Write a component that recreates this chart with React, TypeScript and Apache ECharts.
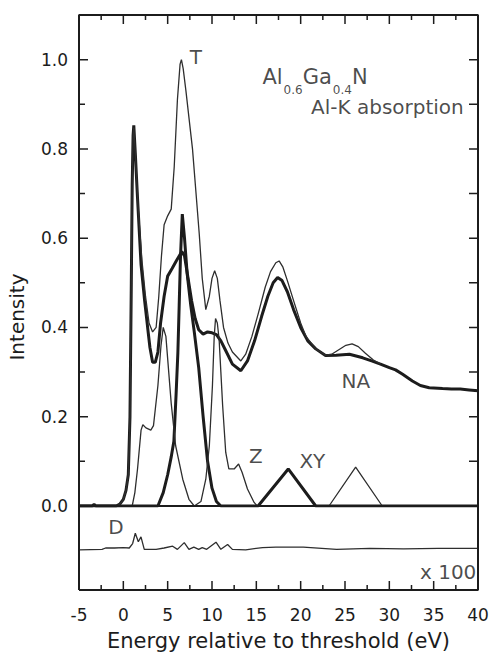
import React, { useEffect, useRef } from "react";
import * as echarts from "echarts";

const FONT = "DejaVu Sans, Liberation Sans, Arial, sans-serif";
const INK = "#1c1c1c";
const THIN = "#2e2e2e";

const X_MIN = -5;
const X_MAX = 40;
const X_STEP = 5;
const Y_UP_MAX = 1.1;
const Y_LOW_MIN = -0.188;

// grid layout (pixels)
const GRID_LEFT = 79;
const GRID_W = 399;
const UP_TOP = 15;
const UP_H = 491;
const LOW_H = 84;

// tick values
const X_MAJOR = [-5, 0, 5, 10, 15, 20, 25, 30, 35, 40];
const X_MINOR = [-2.5, 2.5, 7.5, 12.5, 17.5, 22.5, 27.5, 32.5, 37.5];
const Y_MAJOR = [0, 0.2, 0.4, 0.6, 0.8, 1.0];
const Y_MINOR = [0.1, 0.3, 0.5, 0.7, 0.9];

const naCurve: [number, number][] = [
  [-5, 0], [-3.5, 0], [-3.3, 0.004], [-3.1, 0], [-0.8, 0], [-0.4, 0.004], [0, 0.015], [0.3, 0.035],
  [0.56, 0.07], [0.75, 0.2], [0.9, 0.5], [1.0, 0.72], [1.1, 0.83], [1.18, 0.853], [1.35, 0.79],
  [1.6, 0.69], [2.0, 0.54], [2.4, 0.46], [2.74, 0.4], [3.0, 0.355], [3.3, 0.322], [3.6, 0.322],
  [3.9, 0.345], [4.2, 0.41], [4.6, 0.47], [5.0, 0.515], [5.5, 0.532], [6.0, 0.55], [6.3, 0.56],
  [6.6, 0.57], [6.9, 0.56], [7.3, 0.51], [7.7, 0.46], [8.1, 0.42], [8.5, 0.395], [9.0, 0.385],
  [9.5, 0.39], [10.0, 0.388], [10.5, 0.384], [11.0, 0.37], [11.5, 0.35], [12.3, 0.318],
  [13.25, 0.303], [14.0, 0.325], [14.8, 0.37], [15.6, 0.425], [16.3, 0.47], [16.9, 0.5],
  [17.4, 0.512], [17.9, 0.505], [18.5, 0.48], [19.2, 0.44], [20.0, 0.4], [20.8, 0.37],
  [21.7, 0.352], [22.8, 0.337], [24.0, 0.338], [25.5, 0.34], [27.0, 0.332], [28.0, 0.325],
  [29.0, 0.318], [30.0, 0.31], [30.7, 0.305], [31.5, 0.295], [32.6, 0.28], [33.5, 0.27],
  [34.5, 0.265], [36.0, 0.263], [37.0, 0.262], [38.0, 0.262], [39.0, 0.26], [40.0, 0.258],
];

const tCurve: [number, number][] = [
  [-5, 0], [-0.8, 0], [-0.4, 0.004], [0, 0.015], [0.3, 0.035], [0.56, 0.07], [0.75, 0.2],
  [0.9, 0.5], [1.0, 0.72], [1.1, 0.83], [1.18, 0.848], [1.35, 0.79], [1.7, 0.66], [2.1, 0.55],
  [2.5, 0.47], [2.9, 0.41], [3.3, 0.39], [3.7, 0.4], [4.0, 0.47], [4.3, 0.56], [4.6, 0.63],
  [5.0, 0.65], [5.4, 0.665], [5.74, 0.76], [6.1, 0.91], [6.4, 0.99], [6.55, 1.0], [6.75, 0.98],
  [7.06, 0.93], [7.4, 0.87], [7.8, 0.8], [8.2, 0.7], [8.56, 0.61], [8.9, 0.51], [9.3, 0.44],
  [9.7, 0.47], [10.0, 0.51], [10.3, 0.527], [10.6, 0.51], [10.9, 0.46], [11.3, 0.4],
  [11.8, 0.365], [12.3, 0.345], [13.25, 0.325], [13.8, 0.34], [14.5, 0.38], [15.2, 0.43],
  [16.0, 0.49], [16.6, 0.525], [17.2, 0.545], [17.57, 0.549], [18.0, 0.535], [18.5, 0.505],
  [19.2, 0.46], [20.0, 0.41], [20.6, 0.38], [21.7, 0.352], [22.8, 0.338], [23.5, 0.34],
  [24.3, 0.35], [25.1, 0.36], [25.8, 0.363], [26.5, 0.357], [27.3, 0.342], [28.2, 0.327],
  [29.0, 0.318],
];

const zCurve: [number, number][] = [
  [-5, 0], [1.0, 0], [1.3, 0.03], [1.6, 0.083], [2.0, 0.17], [2.2, 0.182], [2.55, 0.175],
  [3.1, 0.17], [3.4, 0.18], [3.9, 0.27], [4.25, 0.36], [4.5, 0.4], [4.8, 0.38], [5.4, 0.23],
  [5.9, 0.135], [6.7, 0.06], [7.4, 0.015], [8.0, 0], [8.75, 0.01], [9.3, 0.06], [9.7, 0.135],
  [10.05, 0.27], [10.25, 0.38], [10.4, 0.42], [10.6, 0.41], [10.8, 0.374], [11.0, 0.3],
  [11.2, 0.225], [11.55, 0.12], [11.9, 0.083], [12.5, 0.083], [13.0, 0.094], [13.4, 0.075],
  [14.0, 0.038], [14.75, 0.008], [15.1, 0], [23.2, 0], [26.2, 0.087], [29.2, 0], [40, 0],
];

const xyCurve: [number, number][] = [
  [-5, 0], [3.9, 0], [4.5, 0.03], [5.0, 0.07], [5.4, 0.11], [5.7, 0.145], [5.95, 0.25],
  [6.15, 0.343], [6.3, 0.45], [6.45, 0.56], [6.65, 0.654], [6.9, 0.6], [7.2, 0.52], [7.6, 0.45],
  [8.0, 0.39], [8.5, 0.31], [9.0, 0.2], [9.5, 0.1], [10.0, 0.04], [10.5, 0.01], [11.0, 0],
  [15.2, 0], [18.6, 0.083], [21.7, 0], [40, 0],
];

const dCurve: [number, number][] = [
  [-5, -0.098], [-2.4, -0.097], [-2.0, -0.094], [-1.0, -0.094], [0.0, -0.093], [0.67, -0.094],
  [1.05, -0.084], [1.35, -0.061], [1.69, -0.08], [1.99, -0.069], [2.36, -0.097], [3.7, -0.097],
  [4.6, -0.094], [5.56, -0.09], [6.1, -0.097], [6.87, -0.082], [7.4, -0.097], [7.95, -0.092],
  [8.5, -0.097], [8.9, -0.093], [9.4, -0.097], [10.45, -0.081], [11.0, -0.097], [11.76, -0.086],
  [12.3, -0.097], [13.8, -0.098], [15.7, -0.093], [17.2, -0.092], [20.3, -0.092], [24.05, -0.097],
  [27.8, -0.095], [31.6, -0.096], [35.5, -0.095], [40, -0.095],
];

const upperLabels = [
  { name: "T", value: [8.19, 1.006] },
  { name: "NA", value: [26.23, 0.281] },
  { name: "Z", value: [14.95, 0.113] },
  { name: "XY", value: [21.32, 0.0998] },
  { name: "Al-K absorption", value: [29.78, 0.893] },
];
const formulaLabel = { name: "formula", value: [15.74, 0.9834] };
const dLabel = { name: "D", value: [-0.83, -0.048] };
const scaleLabel = { name: "x 100", value: [39.87, -0.149] };

export default function App() {
  const ref = useRef<HTMLDivElement>(null);

  useEffect(() => {
    if (!ref.current) return;
    const chart = echarts.init(ref.current, null, { renderer: "svg" });

    // pixel lengths converted into data units of each axis
    const pxX = GRID_W / (X_MAX - X_MIN);
    const pxYUp = UP_H / Y_UP_MAX;
    const pxYLow = LOW_H / (0 - Y_LOW_MIN);

    const lineSeries = (data: any[], width: number, color: string, xi: number, yi: number, z = 2) => ({
      type: "line" as const, data, xAxisIndex: xi, yAxisIndex: yi, showSymbol: false, symbol: "none", silent: true,
      lineStyle: { width, color }, z,
    });

    // frame and ticks drawn as line series in data coordinates
    const frameSeries: any[] = [
      lineSeries([[X_MIN, 0], [X_MIN, Y_UP_MAX], [X_MAX, Y_UP_MAX], [X_MAX, 0], [X_MIN, 0]], 2, INK, 0, 0, 4),
      lineSeries([[X_MIN, Y_LOW_MIN], [X_MIN, 0], [X_MAX, 0], [X_MAX, Y_LOW_MIN], [X_MIN, Y_LOW_MIN]], 2, INK, 1, 1, 4),
    ];
    const tick = (coords: number[][], xi: number, yi: number) => lineSeries(coords, 1.5, INK, xi, yi, 4);
    X_MAJOR.forEach((v) => {
      frameSeries.push(tick([[v, Y_UP_MAX], [v, Y_UP_MAX - 9 / pxYUp]], 0, 0));
      frameSeries.push(tick([[v, Y_LOW_MIN], [v, Y_LOW_MIN + 9 / pxYLow]], 1, 1));
    });
    X_MINOR.forEach((v) => {
      frameSeries.push(tick([[v, Y_UP_MAX], [v, Y_UP_MAX - 5 / pxYUp]], 0, 0));
      frameSeries.push(tick([[v, Y_LOW_MIN], [v, Y_LOW_MIN + 5 / pxYLow]], 1, 1));
    });
    Y_MAJOR.forEach((v) => {
      frameSeries.push(tick([[X_MIN, v], [X_MIN + 9 / pxX, v]], 0, 0));
      frameSeries.push(tick([[X_MAX, v], [X_MAX - 9 / pxX, v]], 0, 0));
    });
    Y_MINOR.forEach((v) => {
      frameSeries.push(tick([[X_MIN, v], [X_MIN + 6 / pxX, v]], 0, 0));
      frameSeries.push(tick([[X_MAX, v], [X_MAX - 9 / pxX, v]], 0, 0));
    });

    const labelScatter = (data: any[], xi: number, yi: number, label: any) => ({
      type: "scatter" as const, xAxisIndex: xi, yAxisIndex: yi, symbolSize: 1, silent: true,
      itemStyle: { color: "rgba(0,0,0,0)" }, data,
      label: { show: true, fontFamily: FONT, color: INK, ...label },
    });

    const hiddenAxisParts = {
      axisLine: { show: false, onZero: false },
      axisTick: { show: false },
      splitLine: { show: false },
    };

    chart.setOption({
      animation: false,
      grid: [
        { left: GRID_LEFT, width: GRID_W, top: UP_TOP, height: UP_H },
        { left: GRID_LEFT, width: GRID_W, top: UP_TOP + UP_H, height: LOW_H },
      ],
      xAxis: [
        { type: "value", gridIndex: 0, position: "top", min: X_MIN, max: X_MAX, interval: X_STEP, ...hiddenAxisParts, axisLabel: { show: false } },
        {
          type: "value", gridIndex: 1, position: "bottom", min: X_MIN, max: X_MAX, interval: X_STEP, ...hiddenAxisParts,
          axisLabel: { show: true, margin: 16, fontSize: 17, fontFamily: FONT, color: INK },
          name: "Energy relative to threshold (eV)", nameLocation: "middle", nameGap: 40,
          nameTextStyle: { fontSize: 21, fontFamily: FONT, color: INK },
        },
      ],
      yAxis: [
        {
          type: "value", gridIndex: 0, position: "left", min: 0, max: Y_UP_MAX, interval: 0.2, ...hiddenAxisParts,
          axisLabel: { show: true, showMaxLabel: false, margin: 11, fontSize: 17, fontFamily: FONT, color: INK,
            formatter: (v: number) => v.toFixed(1) },
        },
        {
          type: "value", gridIndex: 1, position: "left", min: Y_LOW_MIN, max: 0, ...hiddenAxisParts,
          axisLabel: { show: false },
        },
      ],
      graphic: [
        {
          type: "text", x: 17, y: 317, rotation: Math.PI / 2,
          style: { text: "Intensity", fontSize: 20, fontFamily: FONT, fill: INK, align: "center", verticalAlign: "middle" },
        },
      ],
      series: [
        lineSeries(naCurve, 3, INK, 0, 0),
        lineSeries(xyCurve, 3, INK, 0, 0),
        lineSeries(tCurve, 1.3, THIN, 0, 0),
        lineSeries(zCurve, 1.3, THIN, 0, 0),
        lineSeries(dCurve, 1.3, THIN, 1, 1),
        ...frameSeries,
        labelScatter(upperLabels, 0, 0, { position: "inside", formatter: (p: any) => p.name, fontSize: 20, lineHeight: 18 }),
        labelScatter([formulaLabel], 0, 0, {
          position: [0, 0], align: "left", verticalAlign: "top",
          formatter: "{m|Al}{s|0.6}{m|Ga}{s|0.4}{m|N}",
          rich: {
            m: { fontSize: 21, lineHeight: 18, fontFamily: FONT, color: INK, verticalAlign: "top" },
            s: { fontSize: 12, lineHeight: 8, fontFamily: FONT, color: INK, verticalAlign: "top", padding: [17, 0, 0, 1] },
          },
        }),
        labelScatter([dLabel], 1, 1, { position: "inside", formatter: (p: any) => p.name, fontSize: 20, lineHeight: 20 }),
        labelScatter([scaleLabel], 1, 1, {
          position: [0, 0], align: "right", verticalAlign: "middle", formatter: (p: any) => p.name, fontSize: 20, lineHeight: 20,
        }),
      ],
    });

    return () => chart.dispose();
  }, []);

  return (
    <div
      ref={ref}
      style={{ position: "fixed", left: 0, top: 0, width: 494, height: 655, background: "#fff" }}
    />
  );
}
